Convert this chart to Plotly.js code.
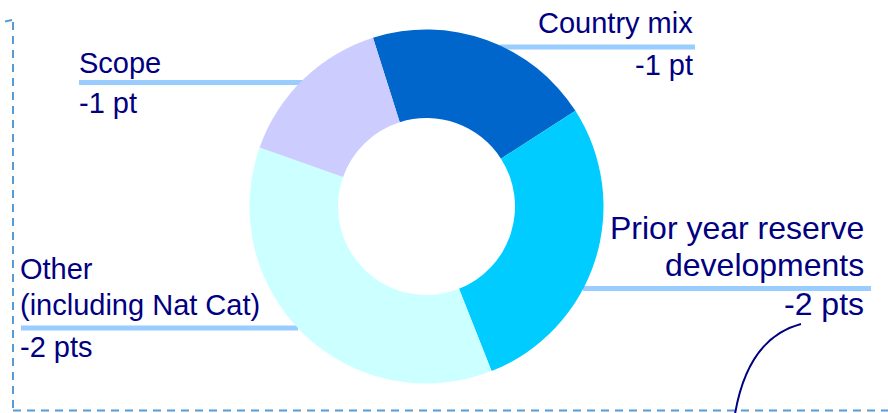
<!DOCTYPE html>
<html>
<head>
<meta charset="utf-8">
<script src="https://cdn.plot.ly/plotly-3.0.1.min.js"></script>
<style>html,body{margin:0;padding:0;background:#fff;}#chart{width:888px;height:413px;}</style>
</head>
<body>
<div id="chart"></div>
<script>
// Data
var categories = ['Country mix', 'Prior year reserve developments', 'Other (including Nat Cat)', 'Scope'];
var values = [20.8, 28.1, 36.4, 14.7];
var sliceColors = ['#0066CC', '#00CCFF', '#CCFFFF', '#CCCCFF'];
var nameLines = [['Country mix'], ['Prior year reserve', 'developments'], ['Other', '(including Nat Cat)'], ['Scope']];
var deltaLabels = ['-1 pt', '-2 pts', '-2 pts', '-1 pt'];

var W = 888, H = 413;
function X(px) { return px / W; }
function Y(py) { return 1 - py / H; }

var navy = '#000080';
var leaderColor = '#99CCFF';
var boxColor = '#5B9BD5';
var font = 'Liberation Sans, Arial, sans-serif';

var labelLayout = [
  {x: 694, xa: 'right', base: [33], ly: 47, lx0: 500, lx1: 695, dBase: 75, fs: 29},
  {x: 865, xa: 'right', base: [239, 276], ly: 288.5, lx0: 583, lx1: 871, dBase: 315, fs: 32},
  {x: 19, xa: 'left', base: [279, 315], ly: 328, lx0: 21, lx1: 298, dBase: 357, fs: 29},
  {x: 78, xa: 'left', base: [73], ly: 82.5, lx0: 79, lx1: 303, dBase: 113, fs: 29}
];

var annotations = [];
var shapes = [];
categories.forEach(function (c, i) {
  var L = labelLayout[i];
  nameLines[i].forEach(function (t, j) {
    annotations.push({
      xref: 'paper', yref: 'paper', x: X(L.x), y: Y(L.base[j] - 0.35 * L.fs),
      xanchor: L.xa, yanchor: 'middle', showarrow: false, text: t,
      font: {family: font, size: L.fs, color: navy}, borderpad: 0
    });
  });
  annotations.push({
    xref: 'paper', yref: 'paper', x: X(L.x), y: Y(L.dBase - 0.35 * L.fs),
    xanchor: L.xa, yanchor: 'middle', showarrow: false, text: deltaLabels[i],
    font: {family: font, size: L.fs, color: navy}, borderpad: 0
  });
  shapes.push({
    type: 'line', xref: 'paper', yref: 'paper', layer: 'below',
    x0: X(L.lx0), x1: X(L.lx1), y0: Y(L.ly), y1: Y(L.ly),
    line: {color: leaderColor, width: 5}
  });
});

// dashed frame
shapes.push({type: 'line', xref: 'paper', yref: 'paper', x0: X(13), x1: X(13), y0: Y(22), y1: Y(410.5),
  line: {color: boxColor, width: 2, dash: '8px,6px'}});
shapes.push({type: 'line', xref: 'paper', yref: 'paper', x0: X(13), x1: X(888), y0: Y(410.5), y1: Y(410.5),
  line: {color: boxColor, width: 2, dash: '8px,6px'}});
shapes.push({type: 'line', xref: 'paper', yref: 'paper', x0: X(5), x1: X(12), y0: Y(21.5), y1: Y(20),
  line: {color: boxColor, width: 2}});
// connector curve
shapes.push({type: 'path', xref: 'paper', yref: 'paper',
  path: 'M ' + X(735) + ' ' + Y(414) + ' Q ' + X(748) + ' ' + Y(338) + ' ' + X(801) + ' ' + Y(324),
  line: {color: navy, width: 2}});

var trace = {
  type: 'pie',
  labels: categories,
  values: values,
  hole: 0.5,
  sort: false,
  direction: 'clockwise',
  rotation: -17.6,
  textinfo: 'none',
  hoverinfo: 'label',
  marker: {colors: sliceColors, line: {width: 0}},
  domain: {x: [X(249.5), X(603.5)], y: [1 - 383.5 / H, 1 - 29.5 / H]}
};

var layout = {
  width: W, height: H,
  margin: {l: 0, r: 0, t: 0, b: 0},
  showlegend: false,
  paper_bgcolor: '#ffffff',
  plot_bgcolor: '#ffffff',
  annotations: annotations,
  shapes: shapes
};

Plotly.newPlot('chart', [trace], layout, {displayModeBar: false, staticPlot: true});
</script>
</body>
</html>
